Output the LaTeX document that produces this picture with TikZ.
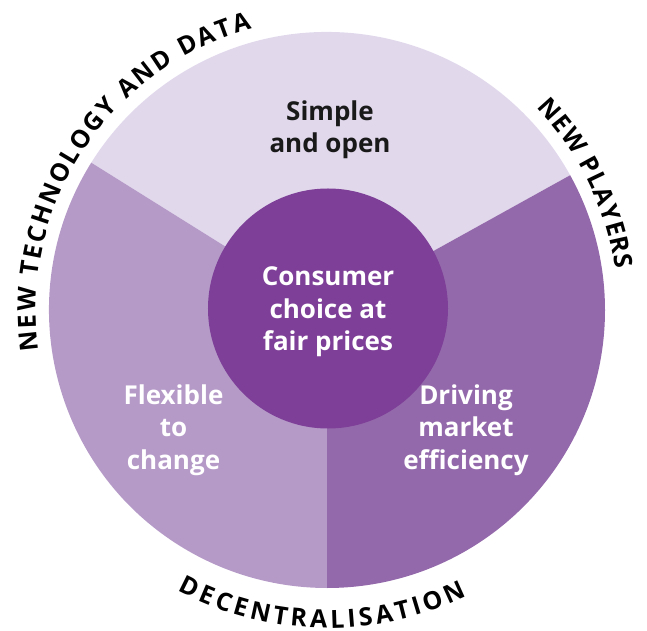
\documentclass[tikz,border=0pt]{standalone}
\usepackage{fontspec}
\setmainfont{Open Sans}
\usetikzlibrary{decorations.text}
\definecolor{simplefill}{HTML}{E1D8EC}
\definecolor{flexfill}{HTML}{B59AC8}
\definecolor{drivefill}{HTML}{9469AB}
\definecolor{hubfill}{HTML}{7D3F97}
\tikzset{
  seglabel/.style={align=center, font=\fontsize{26bp}{32.5bp}\selectfont\bfseries},
  ringtext/.style={decorate, decoration={text along path, text align={fit to path},
    text={|\fontsize{25bp}{25bp}\selectfont\bfseries|#1}}},
}
\begin{document}
\begin{tikzpicture}[x=1bp, y=1bp]
\useasboundingbox (-327,-321) rectangle (320,310);
\fill[simplefill] (0,0) -- (29:278) arc (29:148:278) -- cycle;
\fill[flexfill] (0,0) -- (148:278) arc (148:270:278) -- cycle;
\fill[drivefill] (0,0) -- (270:278) arc (270:389:278) -- cycle;
\node[circle, fill=hubfill, minimum size=240bp, inner sep=0pt] (hub) at (1,1.5) {};
\node[seglabel, white] (choice) at (1,-2) {Consumer\\choice at\\fair prices};
\node[seglabel, black!90] (simple) at (3,180) {Simple\\and open};
\node[seglabel, white] (flexible) at (-153.5,-120) {Flexible\\to\\change};
\node[seglabel, white] (driving) at (139,-120) {Driving\\market\\efficiency};
\path[ringtext=NEW TECHNOLOGY AND DATA] (188:291) arc (188:105:291);
\path[ringtext=NEW PLAYERS] (44:291) arc (44:8:291);
\path[ringtext=DECENTRALISATION] (242:318) arc (242:296:318);
\end{tikzpicture}
\end{document}
